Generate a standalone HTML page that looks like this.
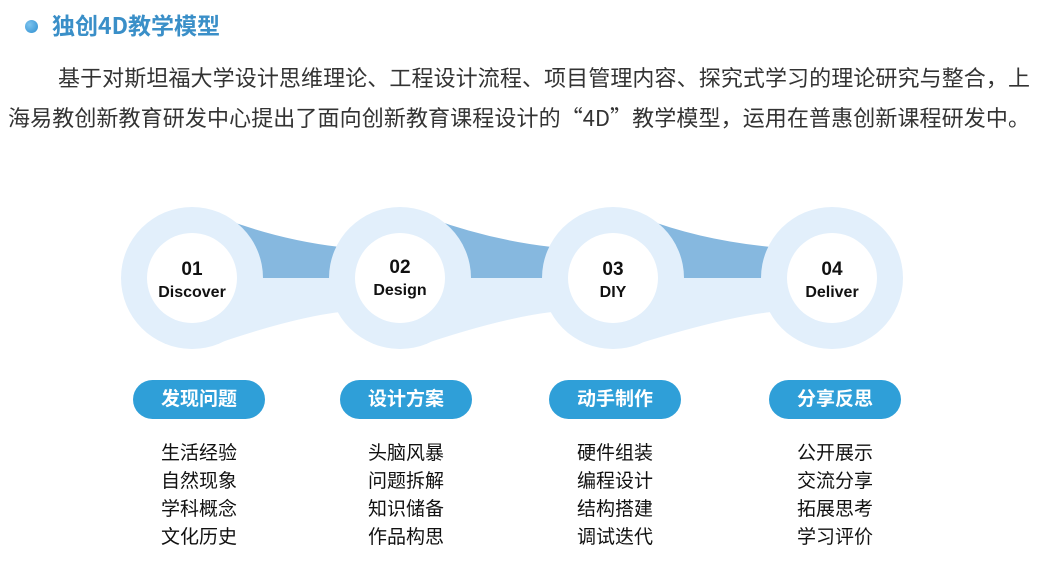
<!DOCTYPE html>
<html><head><meta charset="utf-8"><style>
body{margin:0;width:1043px;height:571px;background:#fff;position:relative;overflow:hidden;font-family:"Liberation Sans","Noto Sans CJK SC",sans-serif;}
.t{position:absolute;white-space:nowrap}
.pill{position:absolute;top:380px;width:132px;height:39px;border-radius:20px;background:#2f9fd8;color:#fff;font-size:19px;font-weight:bold;text-align:center;line-height:39px}
.list{position:absolute;top:438px;width:132px;text-align:center;font-size:19px;line-height:28px;color:#111;font-family:"Noto Sans CJK SC",sans-serif}
.p{position:absolute;font-size:22px;color:#333;text-align:justify;text-align-last:justify;white-space:nowrap;font-family:"Noto Sans CJK SC",sans-serif;line-height:30px}
</style></head><body>
<div style="position:absolute;left:25px;top:20px;width:13px;height:13px;border-radius:50%;background:radial-gradient(circle at 35% 35%,#7cc3ee,#2f8fd0)"></div>
<div class="t" style="left:52px;top:8px;font-size:23px;color:#3a8fc8;font-weight:bold;font-family:'Noto Sans CJK SC',sans-serif;line-height:32px">独创4D教学模型</div>
<div class="p" style="left:58px;top:62px;width:972px">基于对斯坦福大学设计思维理论、工程设计流程、项目管理内容、探究式学习的理论研究与整合，上</div>
<div class="p" style="left:8px;top:102px;width:1022px">海易教创新教育研发中心提出了面向创新教育课程设计的“4D”教学模型，运用在普惠创新课程研发中。</div>
<svg width="1043" height="571" style="position:absolute;left:0;top:0">
<g>
<path d="M222,218 Q280,240 340,247 L340,278 L222,278Z" fill="#86b8df"/>
<path d="M222,278 L340,278 L340,312 Q290,318 207,347Z" fill="#e2effb"/>
<path d="M430,218 Q490,240 552,247 L552,278 L430,278Z" fill="#86b8df"/>
<path d="M430,278 L552,278 L552,312 Q500,318 415,347Z" fill="#e2effb"/>
<path d="M643,218 Q700,240 771,247 L771,278 L643,278Z" fill="#86b8df"/>
<path d="M643,278 L771,278 L771,312 Q720,318 628,347Z" fill="#e2effb"/>
</g>
<g fill="#e2effb"><circle cx="192" cy="278" r="71"/><circle cx="400" cy="278" r="71"/><circle cx="613" cy="278" r="71"/><circle cx="832" cy="278" r="71"/></g>
<g fill="#fff"><circle cx="192" cy="278" r="45"/><circle cx="400" cy="278" r="45"/><circle cx="613" cy="278" r="45"/><circle cx="832" cy="278" r="45"/></g>
<g font-family="Liberation Sans, sans-serif" font-weight="bold" fill="#111" text-anchor="middle">
<text x="192" y="275" font-size="19">01</text><text x="192" y="297" font-size="16">Discover</text>
<text x="400" y="273" font-size="19">02</text><text x="400" y="295" font-size="16">Design</text>
<text x="613" y="275" font-size="19">03</text><text x="613" y="297" font-size="16">DIY</text>
<text x="832" y="275" font-size="19">04</text><text x="832" y="297" font-size="16">Deliver</text>
</g></svg>
<div class="pill" style="left:133px">发现问题</div>
<div class="pill" style="left:340px">设计方案</div>
<div class="pill" style="left:549px">动手制作</div>
<div class="pill" style="left:769px">分享反思</div>
<div class="list" style="left:133px">生活经验<br>自然现象<br>学科概念<br>文化历史</div>
<div class="list" style="left:340px">头脑风暴<br>问题拆解<br>知识储备<br>作品构思</div>
<div class="list" style="left:549px">硬件组装<br>编程设计<br>结构搭建<br>调试迭代</div>
<div class="list" style="left:769px">公开展示<br>交流分享<br>拓展思考<br>学习评价</div>
</body></html>
